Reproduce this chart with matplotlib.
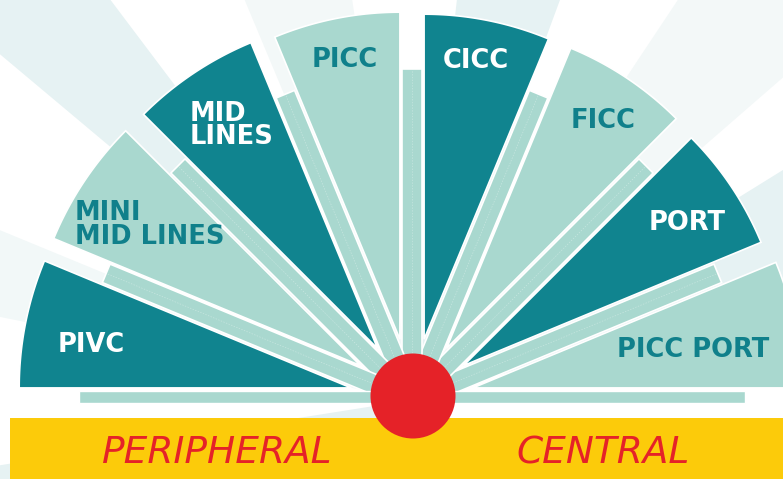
import numpy as np
import matplotlib.pyplot as plt
from matplotlib.patches import Polygon, Wedge, Circle, Rectangle

# vascular access types, from peripheral (left) to central (right)
labels = ["PIVC", "MINI\nMID LINES", "MID\nLINES", "PICC", "CICC", "FICC", "PORT", "PICC PORT"]
lengths = [332, 332, 331, 327, 325, 325, 322, 328]
dark = [True, False, True, False, True, False, True, False]
groups = ["PERIPHERAL", "CENTRAL"]

# layout (pixels, y measured from the top)
label_pos = [(91, 345), (75, 225), (190, 125), (345, 60), (476, 61), (603, 121), (687, 223), (693, 350)]
label_ha = ["center", "left", "left", "center", "center", "center", "center", "center"]
group_pos = [(217, 453), (603, 453)]

# faint background rays (degrees) and their shade
rays = [(127, 140, "#e6f2f3"), (157.6, 168.6, "#f2f8f8"), (98.5, 112.7, "#f3f8f8"),
        (69.7, 83.6, "#e6f2f3"), (41, 56.4, "#f3f8f8"), (16, 31.8, "#e6f2f3"),
        (189, 210, "#e6f2f3")]

TEAL = "#10848f"
MINT = "#a9d8cf"
TEAL_TXT = "#10808b"
RED = "#e52228"
YELLOW = "#fccb0a"

W, H = 783, 479
cx, cy = 412, H - 400
step = 180 / len(labels)
shift = 62        # how far each wedge is pushed out from the centre
bar_len = 331
bar_w = 20

fig = plt.figure(figsize=(W / 100, H / 100), dpi=100)
ax = fig.add_axes([0, 0, 1, 1])
ax.set_xlim(0, W)
ax.set_ylim(0, H)
ax.axis("off")


def unit(deg):
    a = np.radians(deg)
    return np.array([np.cos(a), np.sin(a)])


# background rays
for a1, a2, col in rays:
    ax.add_patch(Wedge((cx, cy), 1200, a1, a2, facecolor=col, edgecolor="none", zorder=0))

# spokes between the wedges
c = np.array([cx, cy])
for k in range(1, len(labels)):
    ang = k * step
    u, n = unit(ang), unit(ang + 90)
    pts = [c - n * bar_w / 2, c + u * bar_len - n * bar_w / 2,
           c + u * bar_len + n * bar_w / 2, c + n * bar_w / 2]
    ax.add_patch(Polygon(pts, closed=True, facecolor=MINT, edgecolor="white", lw=1.2, zorder=2))
    end = c + u * bar_len
    ax.plot([cx, end[0]], [cy, end[1]], color="white", lw=0.5, alpha=0.35,
            dashes=(2, 2), zorder=2.1)
# flat spokes along the base
for sign in (-1, 1):
    ax.add_patch(Rectangle((cx, cy - 3), sign * (bar_len + 2), 12, facecolor=MINT,
                           edgecolor="white", lw=1.0, zorder=2))

# wedges
for i, (lab, r) in enumerate(zip(labels, lengths)):
    a2 = 180 - i * step
    a1 = a2 - step
    apex = c + shift * unit((a1 + a2) / 2)
    arc = np.array([apex + r * unit(t) for t in np.linspace(a1, a2, 60)])
    pts = np.vstack([apex, arc])
    ax.add_patch(Polygon(pts, closed=True, facecolor=TEAL if dark[i] else MINT,
                         edgecolor="white", lw=1.2, zorder=3))
    x, y = label_pos[i]
    ax.text(x, H - y, lab, ha=label_ha[i], va="center", ma="left",
            color="white" if dark[i] else TEAL_TXT, fontsize=18.5, fontweight="bold",
            family="DejaVu Sans", linespacing=0.85, zorder=6)

# yellow base band and red hub
ax.add_patch(Rectangle((10, 0), W - 10, H - 418, facecolor=YELLOW, edgecolor="none", zorder=4))
ax.add_patch(Circle((413, H - 396), 42.5, facecolor=RED, edgecolor="none", zorder=5))

for g, (x, y) in zip(groups, group_pos):
    ax.text(x, H - y, g, ha="center", va="center", color=RED, fontsize=27,
            fontstyle="italic", family="DejaVu Sans", zorder=6)

fig.savefig("out.png", dpi=100)
